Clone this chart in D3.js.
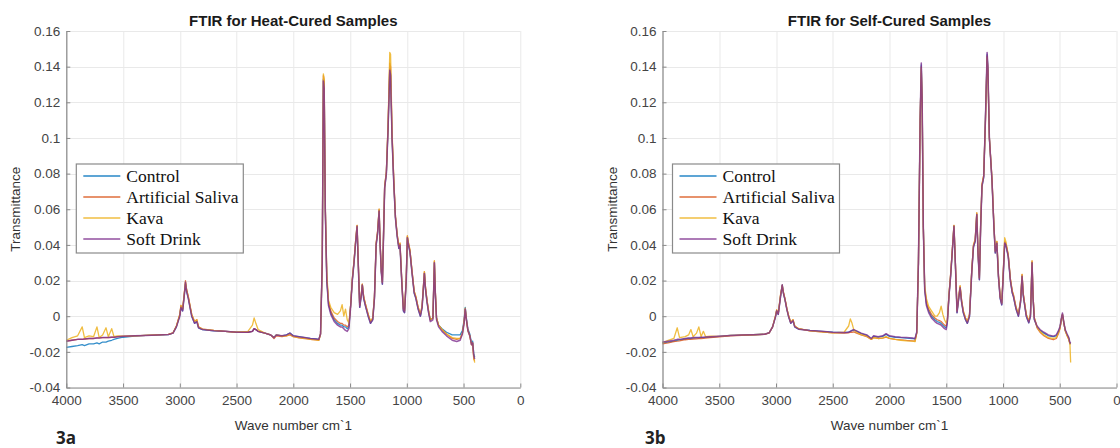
<!DOCTYPE html>
<html>
<head>
<meta charset="utf-8">
<script src="https://cdn.jsdelivr.net/npm/d3@7"></script>
<style>
  body { margin: 0; background: #fff; }
  svg { display: block; }
</style>
</head>
<body>
<svg id="chart" width="1120" height="448"></svg>
<script>
// ---- Series and axis definitions ----
const seriesNames = ["Control", "Artificial Saliva", "Kava", "Soft Drink"];
const seriesColors = ["#0072BD", "#D95319", "#EDB120", "#7E2F8E"];

const xTicks = [4000, 3500, 3000, 2500, 2000, 1500, 1000, 500, 0];
const xTickLabels = ["4000", "3500", "3000", "2500", "2000", "1500", "1000", "500", "0"];
const yTicks = [-0.04, -0.02, 0, 0.02, 0.04, 0.06, 0.08, 0.1, 0.12, 0.14, 0.16];
const yTickLabels = ["-0.04", "-0.02", "0", "0.02", "0.04", "0.06", "0.08", "0.1", "0.12", "0.14", "0.16"];

const panelTitles = ["FTIR for Heat-Cured Samples", "FTIR for Self-Cured Samples"];
const panelTags = ["3a", "3b"];

// ---- Heat-cured spectra (wave number cm-1, transmittance) ----
const heatWave = [4000,3950,3900,3860,3840,3800,3760,3730,3710,3680,3650,3630,3600,3580,3550,3500,3400,3300,3200,3100,
  3060,3030,3000,2990,2975,2960,2950,2940,2925,2910,2895,2870,2850,2835,2800,2700,2600,2500,2400,2360,
  2345,2330,2310,2250,2200,2170,2150,2100,2060,2030,2000,1950,1900,1850,1800,1775,1760,1745,1735,1728,
  1718,1705,1690,1670,1640,1610,1585,1570,1555,1540,1525,1510,1495,1480,1465,1450,1438,1428,1415,1400,
  1392,1380,1365,1340,1320,1300,1285,1270,1258,1244,1235,1225,1215,1205,1195,1180,1165,1150,1143,1130,
  1115,1100,1085,1070,1060,1045,1030,1020,1005,995,985,972,955,935,920,900,880,865,845,835,
  822,808,793,770,757,748,738,720,690,650,600,560,530,510,495,485,475,462,445,430,
  420,410,402];

const heatControl = [-0.0175,-0.017,-0.0165,-0.016,-0.0165,-0.0155,-0.0155,-0.015,-0.0155,-0.0145,-0.0145,-0.014,-0.0135,-0.013,-0.0125,-0.0118,-0.0112,-0.0108,-0.0106,-0.0103,
  -0.0095,-0.006,0.0005,0.005,0.003,0.012,0.018,0.014,0.01,0.005,0.0,-0.004,-0.003,-0.0065,-0.0075,-0.0082,-0.0085,-0.009,-0.009,-0.0085,
  -0.007,-0.0075,-0.0085,-0.0095,-0.0105,-0.012,-0.0105,-0.011,-0.0105,-0.0095,-0.011,-0.0115,-0.012,-0.0125,-0.0128,-0.013,-0.01,0.03,0.133,0.13,
  0.06,0.02,0.007,0.002,-0.002,-0.004,-0.005,-0.005,-0.006,-0.006,-0.007,-0.006,0.006,0.02,0.03,0.042,0.05,0.03,0.005,0.012,
  0.0175,0.01,0.006,0.0,-0.004,-0.002,0.01,0.04,0.046,0.059,0.04,0.025,0.018,0.045,0.072,0.08,0.105,0.139,0.136,0.1,
  0.075,0.055,0.045,0.038,0.04,0.02,0.003,0.002,0.02,0.044,0.04,0.036,0.025,0.013,0.01,0.004,0.0,0.005,0.024,0.015,
  0.008,0.002,-0.002,-0.001,0.03,0.012,-0.001,-0.005,-0.007,-0.009,-0.0105,-0.0105,-0.0105,-0.008,-0.002,0.005,-0.001,-0.007,-0.01,-0.015,
  -0.014,-0.021,-0.023];

const heatSaliva = [-0.014,-0.0135,-0.013,-0.013,-0.0128,-0.0125,-0.0125,-0.0122,-0.0122,-0.012,-0.012,-0.012,-0.0118,-0.0118,-0.0115,-0.0113,-0.011,-0.0108,-0.0105,-0.0102,
  -0.0094,-0.0055,0.001,0.006,0.004,0.013,0.02,0.015,0.011,0.006,0.001,-0.003,-0.002,-0.006,-0.0072,-0.008,-0.0085,-0.009,-0.009,-0.0085,
  -0.007,-0.0075,-0.0085,-0.0095,-0.0105,-0.0125,-0.011,-0.0115,-0.011,-0.0105,-0.0115,-0.0122,-0.0125,-0.013,-0.0133,-0.0135,-0.01,0.03,0.135,0.132,
  0.06,0.022,0.008,0.003,-0.001,-0.003,-0.004,-0.004,-0.005,-0.005,-0.006,-0.005,0.006,0.021,0.031,0.043,0.051,0.031,0.006,0.013,
  0.018,0.011,0.007,0.001,-0.003,-0.001,0.011,0.041,0.047,0.06,0.041,0.026,0.019,0.046,0.073,0.081,0.107,0.142,0.14,0.102,
  0.077,0.056,0.046,0.039,0.041,0.021,0.004,0.003,0.021,0.045,0.041,0.037,0.026,0.014,0.011,0.005,0.001,0.006,0.025,0.016,
  0.009,0.003,-0.002,-0.001,0.031,0.013,-0.001,-0.005,-0.0075,-0.01,-0.0125,-0.013,-0.0125,-0.0095,-0.003,0.004,-0.002,-0.008,-0.011,-0.016,
  -0.015,-0.024,-0.025];

const heatKava = [-0.0135,-0.012,-0.011,-0.006,-0.012,-0.011,-0.0115,-0.006,-0.012,-0.0105,-0.0065,-0.0115,-0.007,-0.0115,-0.011,-0.0112,-0.011,-0.0108,-0.0105,-0.0102,
  -0.0094,-0.0055,0.001,0.006,0.004,0.013,0.019,0.015,0.011,0.006,0.001,-0.003,-0.002,-0.006,-0.0072,-0.008,-0.0085,-0.009,-0.0085,-0.005,
  -0.001,-0.004,-0.0075,-0.0095,-0.0105,-0.012,-0.0105,-0.011,-0.011,-0.01,-0.0115,-0.012,-0.0125,-0.013,-0.0133,-0.0135,-0.01,0.03,0.136,0.133,
  0.062,0.024,0.009,0.005,0.002,0.001,0.003,0.0065,0.0,0.004,-0.002,-0.004,0.006,0.021,0.031,0.043,0.051,0.031,0.006,0.013,
  0.018,0.011,0.007,0.001,-0.003,-0.001,0.011,0.041,0.047,0.06,0.041,0.026,0.019,0.046,0.073,0.081,0.108,0.148,0.147,0.104,
  0.077,0.056,0.046,0.039,0.041,0.021,0.004,0.003,0.021,0.045,0.041,0.037,0.026,0.014,0.011,0.005,0.001,0.006,0.025,0.016,
  0.009,0.003,-0.002,-0.001,0.031,0.013,-0.001,-0.005,-0.0075,-0.01,-0.012,-0.0125,-0.0125,-0.0095,-0.003,0.0045,-0.002,-0.008,-0.011,-0.016,
  -0.015,-0.023,-0.026];

const heatSoftDrink = [-0.014,-0.0135,-0.013,-0.013,-0.0128,-0.0125,-0.0125,-0.0122,-0.0122,-0.012,-0.012,-0.012,-0.0118,-0.0118,-0.0115,-0.0113,-0.011,-0.0108,-0.0106,-0.0103,
  -0.0095,-0.006,0.0,0.005,0.003,0.012,0.019,0.014,0.01,0.005,0.0,-0.004,-0.003,-0.0065,-0.0075,-0.0082,-0.0085,-0.009,-0.009,-0.0085,
  -0.007,-0.0075,-0.0085,-0.0095,-0.0105,-0.012,-0.0105,-0.011,-0.0105,-0.0095,-0.011,-0.0115,-0.012,-0.0125,-0.0128,-0.013,-0.01,0.03,0.132,0.128,
  0.06,0.02,0.006,0.001,-0.003,-0.005,-0.006,-0.006,-0.007,-0.008,-0.0085,-0.007,0.005,0.02,0.03,0.042,0.0505,0.03,0.005,0.012,
  0.0175,0.01,0.006,0.0,-0.004,-0.002,0.01,0.04,0.046,0.059,0.04,0.025,0.018,0.045,0.072,0.08,0.105,0.138,0.135,0.1,
  0.075,0.055,0.045,0.038,0.04,0.02,0.003,0.002,0.02,0.044,0.04,0.036,0.025,0.013,0.01,0.004,0.0,0.005,0.024,0.015,
  0.008,0.002,-0.003,-0.002,0.03,0.012,-0.002,-0.006,-0.0085,-0.011,-0.0135,-0.0142,-0.0135,-0.01,-0.004,0.004,-0.002,-0.008,-0.011,-0.016,
  -0.015,-0.022,-0.024];

// ---- Self-cured spectra (wave number cm-1, transmittance) ----
const selfWave = [4000,3950,3900,3870,3850,3800,3770,3750,3730,3700,3680,3660,3640,3620,3580,3500,3400,3300,3200,3100,
  3060,3030,3005,2994,2980,2960,2945,2935,2920,2905,2890,2870,2850,2835,2800,2700,2600,2500,2400,2360,
  2345,2330,2315,2290,2250,2200,2160,2140,2100,2060,2030,2000,1950,1900,1850,1800,1775,1760,1745,1730,
  1720,1712,1702,1690,1675,1655,1630,1600,1580,1560,1545,1530,1515,1500,1490,1475,1462,1448,1432,1420,
  1405,1390,1378,1365,1350,1330,1314,1295,1275,1260,1245,1231,1220,1208,1197,1185,1170,1155,1140,1133,
  1120,1097,1080,1068,1054,1040,1025,1011,1000,985,975,954,935,918,908,885,864,845,832,822,
  812,795,773,758,744,735,724,700,674,640,600,556,530,510,497,485,476,465,452,435,
  420,410,404];

const selfControl = [-0.015,-0.0145,-0.014,-0.0135,-0.0133,-0.0128,-0.0125,-0.0125,-0.0123,-0.0122,-0.0122,-0.012,-0.012,-0.0119,-0.0117,-0.0113,-0.0108,-0.0106,-0.0104,-0.0101,
  -0.0093,-0.006,-0.0005,0.003,0.001,0.011,0.0175,0.013,0.009,0.004,0.0,-0.004,-0.0025,-0.006,-0.0073,-0.008,-0.0085,-0.009,-0.0092,-0.009,
  -0.0085,-0.008,-0.0078,-0.0085,-0.0098,-0.0108,-0.0128,-0.0113,-0.0118,-0.0113,-0.0102,-0.0113,-0.0118,-0.012,-0.0123,-0.0125,-0.0128,-0.009,0.03,0.11,
  0.141,0.12,0.05,0.015,0.007,0.003,0.0,-0.002,-0.003,-0.0035,-0.004,-0.005,-0.006,-0.0065,-0.003,0.012,0.022,0.035,0.0505,0.03,
  0.002,0.01,0.016,0.008,0.002,-0.002,-0.004,0.0,0.025,0.039,0.042,0.057,0.035,0.0205,0.05,0.073,0.078,0.11,0.147,0.139,
  0.1,0.076,0.05,0.0355,0.041,0.022,0.01,0.0064,0.02,0.041,0.04,0.0336,0.02,0.013,0.011,0.004,0.0,0.008,0.0224,0.012,
  0.0074,0.0,-0.0037,0.0,0.03,0.01,-0.0018,-0.006,-0.008,-0.0095,-0.011,-0.0115,-0.011,-0.0085,-0.006,-0.0015,0.001,-0.0035,-0.008,-0.0105,
  -0.0125,-0.0155,-0.015];

const selfSaliva = [-0.0155,-0.015,-0.0142,-0.014,-0.0138,-0.0132,-0.013,-0.013,-0.0128,-0.0127,-0.0126,-0.0125,-0.0124,-0.0123,-0.012,-0.0116,-0.011,-0.0107,-0.0105,-0.0102,
  -0.0094,-0.006,0.0,0.0035,0.0015,0.012,0.0175,0.0135,0.0095,0.0045,0.0005,-0.0035,-0.002,-0.0055,-0.007,-0.0082,-0.0088,-0.0093,-0.0095,-0.0093,
  -0.009,-0.009,-0.0088,-0.0095,-0.0105,-0.0115,-0.013,-0.012,-0.0125,-0.0123,-0.0118,-0.0125,-0.013,-0.0133,-0.0136,-0.0138,-0.014,-0.0095,0.03,0.11,
  0.14,0.118,0.05,0.016,0.008,0.004,0.001,-0.001,-0.002,-0.0025,-0.003,-0.004,-0.005,-0.0055,-0.002,0.013,0.023,0.036,0.051,0.031,
  0.003,0.011,0.017,0.009,0.003,-0.001,-0.003,0.001,0.026,0.04,0.043,0.058,0.036,0.0215,0.051,0.074,0.079,0.11,0.146,0.138,
  0.1,0.077,0.051,0.0365,0.042,0.023,0.011,0.0074,0.021,0.042,0.041,0.0346,0.021,0.014,0.012,0.005,0.001,0.009,0.0234,0.013,
  0.0084,0.001,-0.0027,0.001,0.031,0.011,-0.0008,-0.0065,-0.009,-0.011,-0.0125,-0.0132,-0.0125,-0.0095,-0.0066,-0.0015,0.001,-0.0035,-0.008,-0.011,
  -0.013,-0.0155,-0.0155];

const selfKava = [-0.015,-0.0135,-0.0125,-0.0065,-0.012,-0.0115,-0.0105,-0.0075,-0.0115,-0.0095,-0.006,-0.0115,-0.0085,-0.0115,-0.0112,-0.0113,-0.0108,-0.0106,-0.0104,-0.0101,
  -0.0093,-0.006,0.0,0.0035,0.0015,0.012,0.017,0.0135,0.0095,0.0045,0.0005,-0.0035,-0.002,-0.0055,-0.007,-0.0082,-0.0088,-0.0093,-0.009,-0.0055,
  -0.0015,-0.004,-0.0075,-0.009,-0.0103,-0.0112,-0.013,-0.012,-0.0125,-0.0122,-0.0115,-0.0125,-0.013,-0.0135,-0.0138,-0.014,-0.0142,-0.0095,0.03,0.11,
  0.139,0.118,0.05,0.017,0.01,0.0055,0.003,0.0,0.0,0.002,0.0056,0.001,-0.002,-0.004,-0.002,0.013,0.023,0.036,0.051,0.031,
  0.003,0.011,0.017,0.009,0.003,-0.001,-0.003,0.001,0.026,0.04,0.043,0.058,0.036,0.0215,0.051,0.074,0.079,0.108,0.145,0.137,
  0.1,0.077,0.051,0.0365,0.042,0.023,0.011,0.0074,0.022,0.044,0.042,0.0346,0.021,0.014,0.012,0.005,0.001,0.009,0.0234,0.013,
  0.0084,0.001,-0.0027,0.001,0.031,0.011,-0.0008,-0.006,-0.0085,-0.0105,-0.012,-0.0125,-0.012,-0.009,-0.0066,-0.0015,0.001,-0.0035,-0.008,-0.011,
  -0.013,-0.016,-0.026];

const selfSoftDrink = [-0.0145,-0.014,-0.0135,-0.013,-0.013,-0.0125,-0.0122,-0.0122,-0.012,-0.012,-0.012,-0.0118,-0.0118,-0.0117,-0.0115,-0.0112,-0.0108,-0.0106,-0.0104,-0.0101,
  -0.0093,-0.006,-0.0005,0.003,0.001,0.011,0.0175,0.013,0.009,0.004,0.0,-0.004,-0.0025,-0.006,-0.0073,-0.008,-0.0085,-0.009,-0.0092,-0.009,
  -0.0085,-0.008,-0.0075,-0.0082,-0.0095,-0.0105,-0.0125,-0.011,-0.0115,-0.011,-0.0098,-0.011,-0.0115,-0.0118,-0.012,-0.0122,-0.0125,-0.009,0.03,0.11,
  0.142,0.12,0.05,0.015,0.006,0.002,-0.001,-0.003,-0.004,-0.0045,-0.005,-0.006,-0.007,-0.0075,-0.003,0.012,0.022,0.035,0.0505,0.03,
  0.002,0.01,0.016,0.008,0.002,-0.002,-0.004,0.0,0.025,0.039,0.042,0.057,0.035,0.0205,0.05,0.073,0.078,0.11,0.148,0.14,
  0.1,0.076,0.05,0.0355,0.041,0.022,0.01,0.0064,0.02,0.041,0.04,0.0336,0.02,0.013,0.011,0.004,0.0,0.008,0.0224,0.012,
  0.0074,0.0,-0.0037,0.0,0.03,0.01,-0.0018,-0.0055,-0.0075,-0.009,-0.0105,-0.0112,-0.0105,-0.008,-0.0056,-0.001,0.0018,-0.003,-0.0075,-0.01,
  -0.012,-0.015,-0.0145];

// ---- Layout ----
const plotW = 454, plotH = 356.5, plotTop = 31;
const panels = [
  { left: 66.3,  title: panelTitles[0], tag: panelTags[0], tagX: 56,  wave: heatWave,
    values: [heatControl, heatSaliva, heatKava, heatSoftDrink] },
  { left: 662.5, title: panelTitles[1], tag: panelTags[1], tagX: 645, wave: selfWave,
    values: [selfControl, selfSaliva, selfKava, selfSoftDrink] }
];
const lineWidths = [1.3, 1.3, 1.3, 1.5];
const lineOpacity = [0.8, 0.8, 0.85, 0.8];

const svg = d3.select("#chart");
const sans = "'Liberation Sans', Arial, Helvetica, sans-serif";
const serif = "'Liberation Serif', 'Times New Roman', serif";

panels.forEach(p => {
  const g = svg.append("g").attr("transform", `translate(${p.left},${plotTop})`);
  const x = d3.scaleLinear().domain([4000, 0]).range([0, plotW]);
  const y = d3.scaleLinear().domain([-0.04, 0.16]).range([plotH, 0]);

  // grid
  const grid = g.append("g").attr("stroke", "#e9e9e9").attr("stroke-width", 1);
  grid.selectAll(".gx").data(xTicks).join("line")
    .attr("x1", d => Math.round(x(d)) + 0.5).attr("x2", d => Math.round(x(d)) + 0.5)
    .attr("y1", 0).attr("y2", plotH);
  grid.selectAll(".gy").data(yTicks).join("line")
    .attr("y1", d => Math.round(y(d)) + 0.5).attr("y2", d => Math.round(y(d)) + 0.5)
    .attr("x1", 0).attr("x2", plotW);

  // spectra
  const line = d3.line().x(d => x(d[0])).y(d => y(d[1]));
  seriesNames.forEach((name, i) => {
    const pts = p.wave.map((w, k) => [w, p.values[i][k]]);
    g.append("path").datum(pts)
      .attr("d", line)
      .attr("fill", "none")
      .attr("stroke", seriesColors[i])
      .attr("stroke-width", lineWidths[i])
      .attr("stroke-opacity", lineOpacity[i])
      .attr("stroke-linejoin", "round");
  });

  // axes
  const xAxis = d3.axisBottom(x).tickValues(xTicks)
    .tickFormat((d, i) => xTickLabels[i]).tickSize(-4).tickSizeOuter(0).tickPadding(8);
  const yAxis = d3.axisLeft(y).tickValues(yTicks)
    .tickFormat((d, i) => yTickLabels[i]).tickSize(-4).tickSizeOuter(0).tickPadding(6);
  const gx = g.append("g").attr("transform", `translate(0,${plotH})`).call(xAxis);
  const gy = g.append("g").call(yAxis);
  [gx, gy].forEach(a => {
    a.select(".domain").attr("stroke", "#8a8a8a").attr("stroke-width", 1.2);
    a.selectAll(".tick line").attr("stroke", "#8a8a8a");
    a.selectAll(".tick text").attr("fill", "#444").attr("font-family", sans).attr("font-size", 13.5);
  });

  // title and axis labels
  g.append("text").attr("x", plotW / 2).attr("y", -5)
    .attr("text-anchor", "middle").attr("font-family", sans).attr("font-weight", "bold")
    .attr("font-size", 15).attr("fill", "#1a1a1a").text(p.title);
  g.append("text").attr("x", plotW / 2).attr("y", plotH + 42)
    .attr("text-anchor", "middle").attr("font-family", sans)
    .attr("font-size", 13.5).attr("fill", "#333").text("Wave number cm`1");
  g.append("text").attr("transform", `translate(-46,${plotH / 2}) rotate(-90)`)
    .attr("text-anchor", "middle").attr("font-family", sans)
    .attr("font-size", 13.5).attr("fill", "#333").text("Transmittance");

  // legend
  const lg = g.append("g").attr("transform", "translate(10,133)");
  lg.append("rect").attr("x", 0).attr("y", 0).attr("width", 167).attr("height", 89)
    .attr("fill", "#fff").attr("stroke", "#8a8a8a").attr("stroke-width", 1.2);
  seriesNames.forEach((name, i) => {
    const yy = 12 + i * 21;
    lg.append("line").attr("x1", 7).attr("x2", 44).attr("y1", yy).attr("y2", yy)
      .attr("stroke", seriesColors[i]).attr("stroke-width", 1.3).attr("stroke-opacity", 0.85);
    lg.append("text").attr("x", 50).attr("y", yy + 5.5)
      .attr("font-family", serif).attr("font-size", 17.5).attr("fill", "#111").text(name);
  });

  // panel tag
  svg.append("text").attr("x", p.tagX).attr("y", 444)
    .attr("font-family", "'Open Sans', sans-serif").attr("font-weight", "bold")
    .attr("font-size", 17).attr("fill", "#222").text(p.tag);
});
</script>
</body>
</html>
